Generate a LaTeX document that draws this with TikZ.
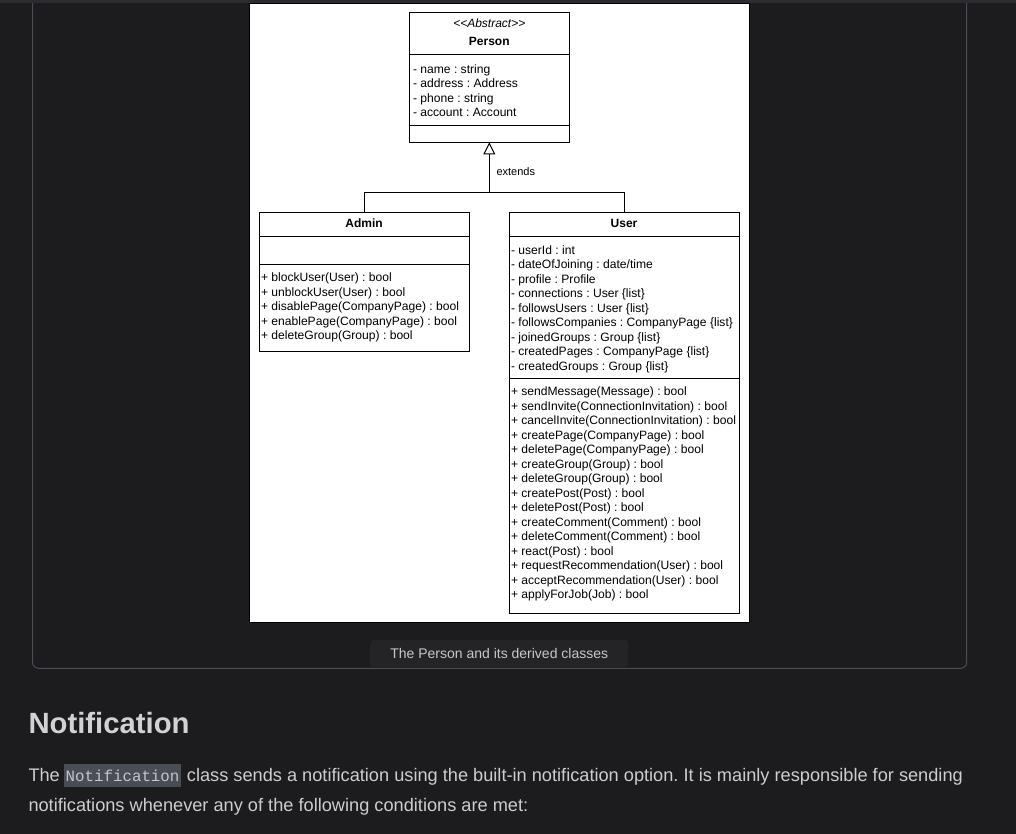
\documentclass[tikz,border=0pt]{standalone}
\usepackage{fontspec}
\setmainfont{Liberation Sans}
\setmonofont{Liberation Mono}
\usetikzlibrary{arrows.meta}
\usetikzlibrary{positioning}
\definecolor{pagebg}{RGB}{28,28,30}
\definecolor{topbar}{RGB}{44,44,48}
\definecolor{framegray}{RGB}{75,75,84}
\definecolor{capbg}{RGB}{36,36,39}
\definecolor{captext}{RGB}{200,200,204}
\definecolor{headtext}{RGB}{210,210,213}
\definecolor{bodytext}{RGB}{205,205,208}
\definecolor{codebg}{RGB}{74,76,86}
\definecolor{codetext}{RGB}{195,197,205}
\frenchspacing
\begin{document}
\begin{tikzpicture}[
		x=1pt, y=-1pt,
		line width=1pt,
		classbox/.style={draw=black, fill=white, anchor=north west, inner sep=0pt, outer sep=0pt},
		classtitle/.style={anchor=base, inner sep=0pt, font=\fontsize{12}{14.5}\selectfont\bfseries},
		stereotype/.style={anchor=base, inner sep=0pt, font=\fontsize{12}{14.5}\selectfont\itshape},
		members/.style={anchor=north west, inner sep=0pt, align=left, font=\fontsize{12.1}{14.5}\selectfont},
		arrow/.style={-{Triangle[open, length=12pt, width=11.7pt]}},
		body/.style={anchor=base west, inner sep=0pt, text=bodytext, font=\fontsize{18.2}{21}\selectfont},
	]
	\useasboundingbox (0,0) rectangle (1016,834);
	\fill[pagebg] (0,0) rectangle (1016,834);

	% card round the figure
	\draw[framegray, rounded corners=6pt] (32.5,-4) rectangle (966.7,668.3);
	\fill[topbar] (0,0) rectangle (1016,3.3);
	\node (sheet) [draw=black, fill=white, anchor=north west, inner sep=0pt, outer sep=0pt,
		minimum width=500pt, minimum height=618.5pt] at (249.5,3.5) {};

	% classes
	\node (person) [classbox, minimum width=160pt, minimum height=130pt] at (409.3,12.3) {};
	\node (personstereo) [stereotype] at ([yshift=-15pt]person.north) {<\kern0pt<Abstract>\kern0pt>};
	\node (persontitle) [classtitle] at ([yshift=-33pt]person.north) {Person};
	\draw ([yshift=-42.7pt]person.north west) -- ([yshift=-42.7pt]person.north east);
	\draw ([yshift=-113.4pt]person.north west) -- ([yshift=-113.4pt]person.north east);
	\node (personattr) [members] at (412.5,62.85) {\strut- name : string\\- address : Address\\- phone : string\\- account : Account};

	\node (admin) [classbox, minimum width=210pt, minimum height=139.4pt] at (259,212.3) {};
	\node (admintitle) [classtitle] at ([yshift=-15pt]admin.north) {Admin};
	\draw ([yshift=-24.4pt]admin.north west) -- ([yshift=-24.4pt]admin.north east);
	\draw ([yshift=-52pt]admin.north west) -- ([yshift=-52pt]admin.north east);
	\node (adminops) [members] at (260.5,270.85) {\strut+ blockUser(User) : bool\\+ unblockUser(User) : bool\\+ disablePage(CompanyPage) : bool\\+ enablePage(CompanyPage) : bool\\+ deleteGroup(Group) : bool};

	\node (user) [classbox, minimum width=230pt, minimum height=400.7pt] at (509,212.3) {};
	\node (usertitle) [classtitle] at ([yshift=-15pt]user.north) {User};
	\draw ([yshift=-24.4pt]user.north west) -- ([yshift=-24.4pt]user.north east);
	\draw ([yshift=-166.4pt]user.north west) -- ([yshift=-166.4pt]user.north east);
	\node (userattr) [members] at (510.5,243.45) {\strut- userId : int\\- dateOfJoining : date/time\\- profile : Profile\\- connections : User \{list\}\\- followsUsers : User \{list\}\\- followsCompanies : CompanyPage \{list\}\\- joinedGroups : Group \{list\}\\- createdPages : CompanyPage \{list\}\\- createdGroups : Group \{list\}};
	\node (userops) [members] at (510.5,385.15) {\strut+ sendMessage(Message) : bool\\+ sendInvite(ConnectionInvitation) : bool\\+ cancelInvite(ConnectionInvitation) : bool\\+ createPage(CompanyPage) : bool\\+ deletePage(CompanyPage) : bool\\+ createGroup(Group) : bool\\+ deleteGroup(Group) : bool\\+ createPost(Post) : bool\\+ deletePost(Post) : bool\\+ createComment(Comment) : bool\\+ deleteComment(Comment) : bool\\+ react(Post) : bool\\+ requestRecommendation(User) : bool\\+ acceptRecommendation(User) : bool\\+ applyForJob(Job) : bool};

	% inheritance
	\coordinate (fork) at (person.south |- 0,192.3);
	\draw (admin.north) |- (fork) -| (user.north);
	\draw[arrow] (fork) -- (person.south);
	\node (extlabel) [anchor=base west, inner sep=0pt, font=\fontsize{11}{13}\selectfont] at (496,175.7) {extends};

	% caption
	\node (caption) [fill=capbg, rounded corners=4pt, minimum width=258pt, minimum height=28pt, inner sep=0pt,
		text=captext, font=\fontsize{14}{16}\selectfont] at (499.2,653.6) {The Person and its derived classes};
	\draw[framegray] (caption.south west) -- (caption.south east);

	% text below the card
	\node (heading) [anchor=base west, inner sep=0pt, text=headtext, font=\fontsize{29.3}{34}\selectfont\bfseries] at (28,733.3) {Notification};
	\node (the) [body] at (28,781) {The};
	\node (codeword) [right=3.3pt of the.base east, anchor=base west, fill=codebg, text=codetext, inner xsep=1.5pt, inner ysep=0pt,
		text height=17pt, text depth=5.7pt, font=\ttfamily\fontsize{15.8}{19}\selectfont] {Notification};
	\node (rest) [body, right=5pt of codeword.base east, anchor=base west] {class sends a notification using the built-in notification option. It is mainly responsible for sending};
	\node (line2) [body] at (28,811.7) {notifications whenever any of the following conditions are met:};
\end{tikzpicture}
\end{document}
